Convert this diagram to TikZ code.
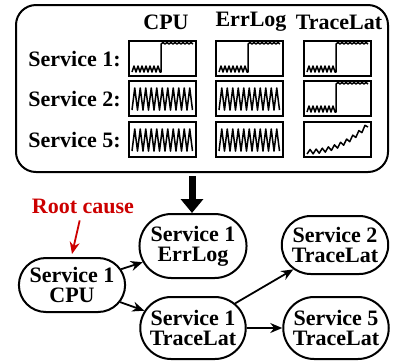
\documentclass[tikz,border=0pt]{standalone}
\usepackage{fontspec}
\setmainfont{Liberation Serif}
\usepackage{tikz}
\usetikzlibrary{shapes.misc, arrows, arrows.meta, calc, positioning}
\definecolor{rootred}{RGB}{204,0,0}
\tikzstyle{svc} = [rounded rectangle, draw=black, line width=1pt, align=center, inner xsep=2pt, minimum width=52pt, minimum height=29pt, font=\fontsize{11}{10}\selectfont\bfseries]
\tikzstyle{lbl} = [font=\fontsize{11}{11}\selectfont\bfseries, inner sep=0pt]
\tikzstyle{arrow} = [line width=0.9pt,-{Stealth[length=6pt,width=5pt]}]
\tikzstyle{sig} = [line width=0.75pt, line join=round]
\tikzstyle{frame} = [line width=0.7pt]
% mini plots, #1 = top left corner
\newcommand{\stepsig}[1]{
	\begin{scope}[shift={#1}]
		\draw[frame] (0,0) rectangle (67,35);
		\draw[sig] (3,31) \foreach \i in {1,...,7} { -- ++(2,-6) -- ++(2,6) } -- (32,31) -- (32,3)
			\foreach \i in {1,...,8} { -- ++(2,-1.5) -- ++(2,1.5) };
	\end{scope}
}
\newcommand{\oscsig}[1]{
	\begin{scope}[shift={#1}]
		\draw[frame] (0,0) rectangle (67,35);
		\draw[sig] (3,29) \foreach \i in {1,...,11} { -- ++(2.75,-22) -- ++(2.75,22) };
	\end{scope}
}
\newcommand{\rampsig}[1]{
	\begin{scope}[shift={#1}]
		\draw[frame] (0,0) rectangle (67,35);
		\draw[sig] (3,32) \foreach \i in {1,...,20} { -- ({3+\i*3.05}, {32 - 27*(\i/20)^2.2 - mod(\i,2)*4.5}) };
	\end{scope}
}

\begin{document}
\begin{tikzpicture}[x=0.5pt, y=-0.5pt]
	\useasboundingbox (0,0) rectangle (395,360);
	% metrics panel
	\draw[line width=1pt, rounded corners=10pt] (16,5) rectangle (388,172);
	\node[lbl] (hcpu) at (166,22) {CPU};
	\node[lbl] (herr) at (251,22) {ErrLog};
	\node[lbl] (htrace) at (339,22) {TraceLat};
	\node[lbl, anchor=east] (row1) at (121,59) {Service 1:};
	\node[lbl, anchor=east] (row2) at (121,99) {Service 2:};
	\node[lbl, anchor=east] (row5) at (121,140) {Service 5:};
	\stepsig{(129,41)}
	\stepsig{(216,41)}
	\stepsig{(304,41)}
	\oscsig{(129,81)}
	\oscsig{(216,81)}
	\stepsig{(304,81)}
	\oscsig{(129,122)}
	\oscsig{(216,122)}
	\rampsig{(304,122)}
	% big arrow
	\coordinate (bigtop) at (192,176);
	\coordinate (bigbot) at (192,213);
	\draw[line width=3.5pt, -{Triangle[length=7pt,width=11pt]}] (bigtop) -- (bigbot);
	% graph
	\node[svc, minimum height=27pt] (s1cpu) at (72,285) {Service 1\\CPU};
	\node[svc, minimum height=32pt] (s1err) at (193,246) {Service 1\\ErrLog};
	\node[svc, minimum height=31pt] (s1trace) at (193,328) {Service 1\\TraceLat};
	\node[svc] (s2trace) at (335,245) {Service 2\\TraceLat};
	\node[svc, minimum height=31pt] (s5trace) at (336,328) {Service 5\\TraceLat};
	\node[font=\fontsize{11}{11}\selectfont\bfseries, text=rootred] (root) at (83,206) {Root cause};
	\draw[line width=0.9pt, rootred, -{Stealth[length=6pt,width=5pt]}] (root) -- ($(s1cpu.north)+(0,-3)$);
	\draw[arrow] (s1cpu) -- (s1err);
	\draw[arrow] (s1cpu) -- (s1trace);
	\draw[arrow] (s1trace) -- (s2trace);
	\draw[arrow] (s1trace) -- (s5trace);
\end{tikzpicture}
\end{document}
